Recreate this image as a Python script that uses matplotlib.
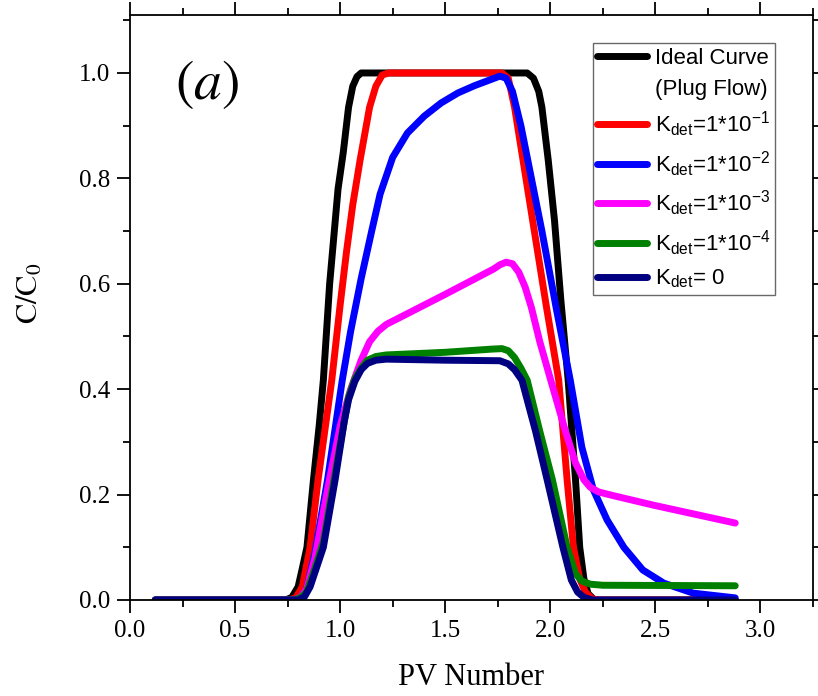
import numpy as np
import matplotlib.pyplot as plt
from matplotlib.ticker import MultipleLocator
from matplotlib.lines import Line2D

# curvas (PV, C/C0)
x_ideal = [0.12, 0.74, 0.77, 0.80, 0.82, 0.842, 0.873, 0.90, 0.92, 0.95, 0.99, 1.015,
           1.04, 1.06, 1.08, 1.10, 1.89, 1.92, 1.945, 1.96, 1.99, 2.02, 2.05, 2.085,
           2.12, 2.14, 2.16, 2.18, 2.21, 2.88]
y_ideal = [0, 0, 0.005, 0.025, 0.06, 0.10, 0.228, 0.33, 0.417, 0.60, 0.78, 0.85,
           0.935, 0.975, 0.993, 1.0, 1.0, 0.99, 0.965, 0.935, 0.835, 0.72, 0.57, 0.417,
           0.228, 0.10, 0.04, 0.012, 0, 0]

x_k1 = [0.12, 0.76, 0.79, 0.82, 0.857, 0.895, 0.93, 0.96, 1.00, 1.03, 1.06, 1.095,
        1.14, 1.17, 1.20, 1.23, 1.77, 1.80, 1.83, 1.87, 1.92, 1.98, 2.04, 2.08, 2.11,
        2.14, 2.167, 2.20, 2.23, 2.88]
y_k1 = [0, 0, 0.005, 0.025, 0.10, 0.228, 0.33, 0.417, 0.56, 0.66, 0.75, 0.835,
        0.935, 0.975, 0.996, 1.0, 1.0, 0.99, 0.935, 0.835, 0.71, 0.56, 0.417, 0.228, 0.10,
        0.04, 0.015, 0.002, 0, 0]

x_k2 = [0.12, 0.78, 0.81, 0.84, 0.88, 0.94, 1.01, 1.05, 1.10, 1.15, 1.19, 1.25, 1.32,
        1.40, 1.48, 1.56, 1.64, 1.72, 1.76, 1.79, 1.82, 1.86, 1.90, 1.96, 2.03, 2.095,
        2.15, 2.205, 2.27, 2.35, 2.44, 2.54, 2.68, 2.88]
y_k2 = [0, 0, 0.005, 0.02, 0.09, 0.228, 0.417, 0.51, 0.61, 0.70, 0.77, 0.84, 0.886,
        0.918, 0.943, 0.962, 0.976, 0.988, 0.994, 0.99, 0.965, 0.90, 0.82, 0.70, 0.55, 0.417,
        0.29, 0.209, 0.152, 0.10, 0.057, 0.032, 0.013, 0.004]

x_k3 = [0.12, 0.78, 0.81, 0.84, 0.88, 0.94, 1.00, 1.05, 1.10, 1.14, 1.18, 1.22, 1.50,
        1.73, 1.76, 1.79, 1.82, 1.85, 1.88, 1.91, 1.95, 2.00, 2.07, 2.12, 2.16, 2.19,
        2.23, 2.30, 2.49, 2.88]
y_k3 = [0, 0, 0.005, 0.02, 0.08, 0.21, 0.33, 0.40, 0.455, 0.49, 0.51, 0.523, 0.58,
        0.628, 0.636, 0.641, 0.638, 0.622, 0.594, 0.555, 0.49, 0.42, 0.323, 0.26, 0.228,
        0.214, 0.205, 0.198, 0.18, 0.146]

x_k4 = [0.12, 0.78, 0.81, 0.84, 0.88, 0.92, 0.976, 1.02, 1.04, 1.07, 1.10, 1.13, 1.17,
        1.22, 1.50, 1.72, 1.77, 1.80, 1.83, 1.86, 1.89, 1.95, 2.01, 2.08, 2.12, 2.15,
        2.19, 2.25, 2.88]
y_k4 = [0, 0, 0.004, 0.015, 0.06, 0.11, 0.24, 0.34, 0.385, 0.42, 0.44, 0.455, 0.462,
        0.465, 0.47, 0.476, 0.477, 0.473, 0.46, 0.44, 0.417, 0.32, 0.228, 0.10, 0.05, 0.036,
        0.03, 0.028, 0.027]

x_k0 = [0.12, 0.80, 0.83, 0.857, 0.92, 0.976, 1.02, 1.04, 1.07, 1.10, 1.13, 1.17, 1.22,
        1.50, 1.76, 1.80, 1.83, 1.865, 1.93, 1.985, 2.06, 2.10, 2.13, 2.16, 2.20, 2.88]
y_k0 = [0, 0, 0.006, 0.025, 0.10, 0.228, 0.34, 0.38, 0.415, 0.437, 0.449, 0.455, 0.457,
        0.455, 0.454, 0.448, 0.437, 0.417, 0.32, 0.228, 0.10, 0.038, 0.015, 0.005, 0, 0]

etiquetas = ['Ideal Curve',
             r'K$_{\mathrm{det}}$=1*10$^{-1}$',
             r'K$_{\mathrm{det}}$=1*10$^{-2}$',
             r'K$_{\mathrm{det}}$=1*10$^{-3}$',
             r'K$_{\mathrm{det}}$=1*10$^{-4}$',
             r'K$_{\mathrm{det}}$= 0']
colores = ['#000000', '#ff0000', '#0000ff', '#ff00ff', '#008000', '#000080']
curvas = [(x_ideal, y_ideal), (x_k1, y_k1), (x_k2, y_k2),
          (x_k3, y_k3), (x_k4, y_k4), (x_k0, y_k0)]

plt.rcParams['font.family'] = 'Liberation Serif'
plt.rcParams['mathtext.fontset'] = 'custom'
plt.rcParams['mathtext.rm'] = 'Liberation Sans'
plt.rcParams['mathtext.it'] = 'Liberation Sans:italic'

fig = plt.figure(figsize=(8.18, 6.96), dpi=100)
ax = fig.add_axes([130/818, 96/696, 683/818, 585/696])

lineas = []
for (xx, yy), c, lab in zip(curvas, colores, etiquetas):
    l, = ax.plot(xx, yy, color=c, lw=5, label=lab,
                 solid_joinstyle='round', solid_capstyle='round')
    lineas.append(l)

ax.set_xlim(0, 3.25)
ax.set_ylim(0, 1.11)
ax.xaxis.set_major_locator(MultipleLocator(0.5))
ax.xaxis.set_minor_locator(MultipleLocator(0.25))
ax.yaxis.set_major_locator(MultipleLocator(0.2))
ax.yaxis.set_minor_locator(MultipleLocator(0.1))
ax.xaxis.set_major_formatter(plt.FormatStrFormatter('%.1f'))
ax.yaxis.set_major_formatter(plt.FormatStrFormatter('%.1f'))
ax.tick_params(which='both', direction='out', top=True, right=True,
               labeltop=False, labelright=False, width=1.3, labelsize=18)
ax.tick_params(which='major', length=9.5, pad=5)
ax.tick_params(which='minor', length=5)
for s in ax.spines.values():
    s.set_linewidth(1.3)

ax.set_xlabel('PV Number', fontsize=22, labelpad=15)
ax.set_ylabel(r'$\mathrm{C/C_0}$', fontsize=22, labelpad=24, y=0.525,
              math_fontfamily='stix')

ax.text(0.113, 0.882, r'$(a)$', transform=ax.transAxes, fontsize=40,
        ha='center', va='center', math_fontfamily='stix')

# leyenda: la segunda linea del rotulo ideal sin simbolo
vacio = Line2D([], [], color='none')
manejadores = [lineas[0], vacio] + lineas[1:]
rotulos = [etiquetas[0], '(Plug Flow)'] + etiquetas[1:]
leg = ax.legend(manejadores, rotulos, loc='upper right', bbox_to_anchor=(0.944, 0.952),
                borderaxespad=0, prop={'family': 'Liberation Sans', 'size': 16},
                fancybox=False, edgecolor='#444444', handlelength=2.25,
                handletextpad=0.35, labelspacing=0.45, borderpad=0.2)
leg.get_frame().set_linewidth(1.0)
for h in leg.get_lines():
    h.set_linewidth(5)
    h.set_solid_capstyle('round')

plt.savefig('out.png', dpi=100)
